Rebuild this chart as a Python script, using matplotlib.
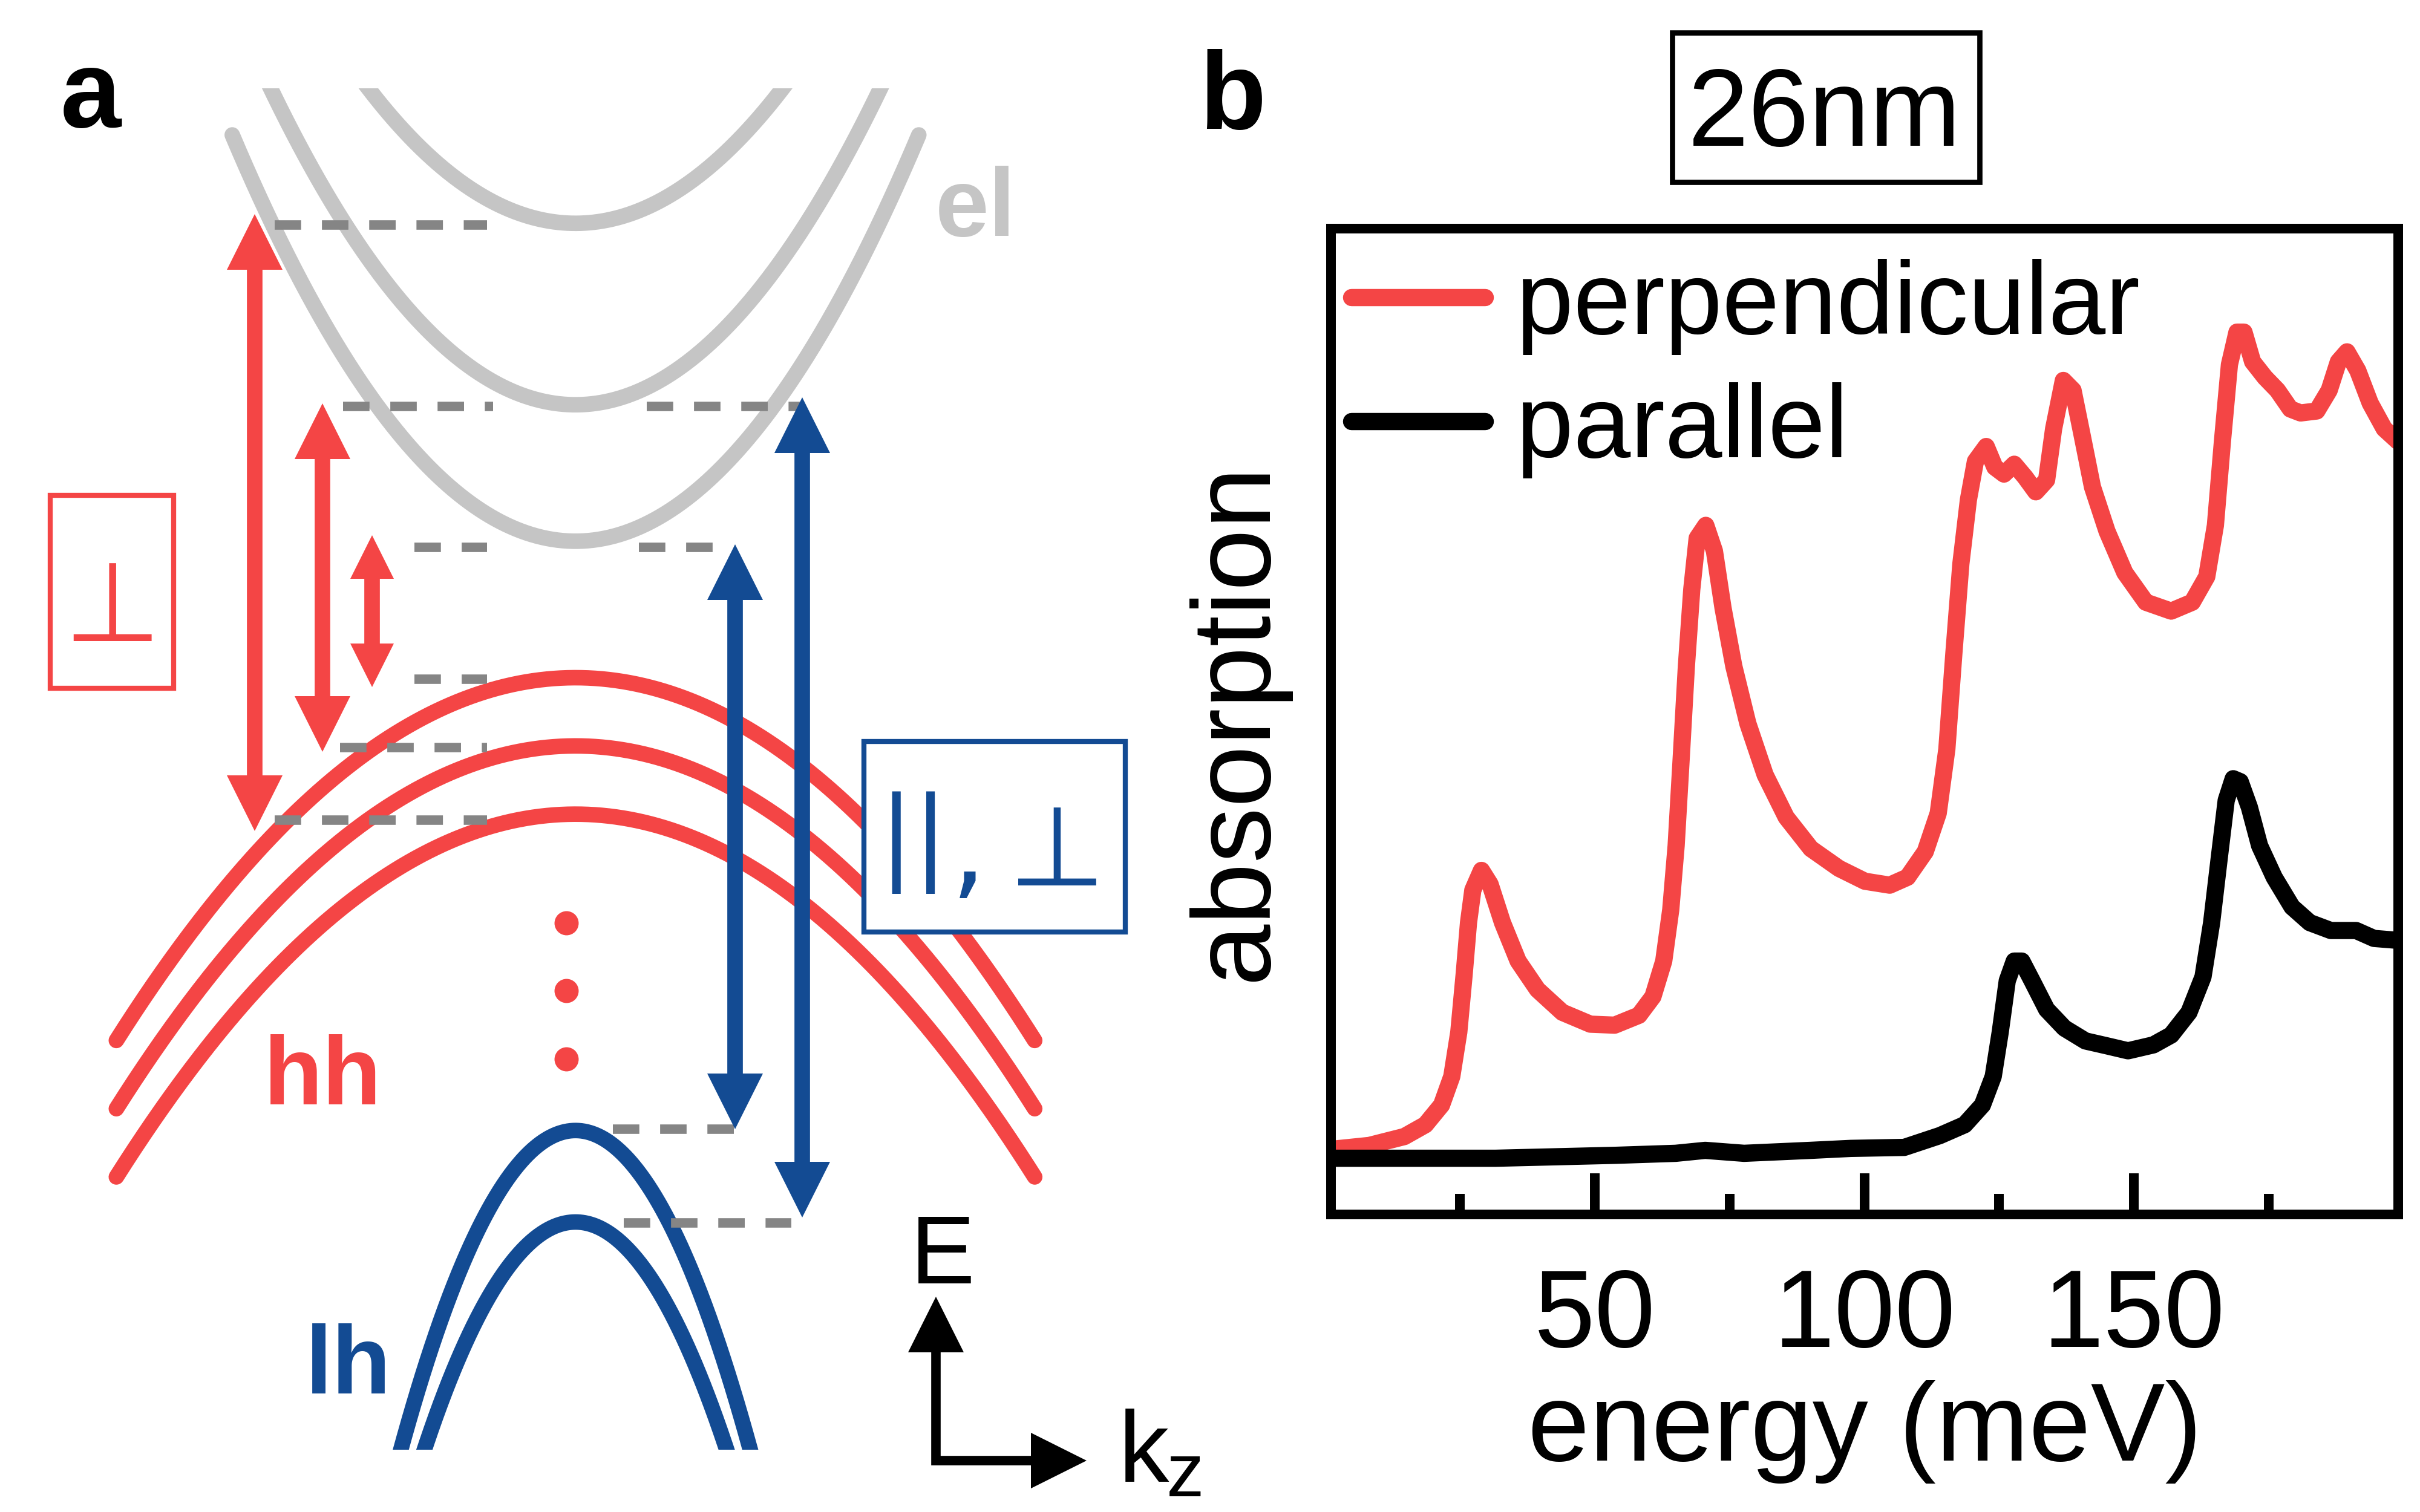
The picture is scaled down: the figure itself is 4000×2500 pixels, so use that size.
import matplotlib.pyplot as plt
import numpy as np
from matplotlib.patches import Rectangle

plt.rcParams["font.family"] = ["Liberation Sans", "DejaVu Sans"]

RED = "#f44545"
BLUE = "#134b93"
LIGHT_GREY = "#c5c5c5"
DASH_GREY = "#858585"

# ---------------------------------------------------------------------------
# panel b: absorption spectra of the 26 nm well (arb. units, 0..1 of axis)
# ---------------------------------------------------------------------------
PERP_E = [1.1, 8.2, 14.7, 18.6, 21.6, 23.5, 24.8, 25.8, 26.6, 27.4,
          29.0, 30.6, 32.9, 35.8, 39.4, 44.0, 49.2, 53.7, 58.2, 60.8,
          62.8, 64.1, 65.1, 66.0, 67.0, 68.0, 69.0, 70.6, 72.2, 73.8,
          75.8, 78.4, 81.6, 85.5, 90.1, 95.3, 100.1, 104.7, 108.0, 111.3,
          113.7, 115.3, 116.6, 117.9, 119.3, 120.6, 122.6, 124.2, 125.9, 127.8,
          129.8, 131.8, 133.8, 135.1, 136.9, 138.7, 140.4, 142.3, 145.0, 148.3,
          152.2, 156.9, 160.8, 163.5, 165.1, 166.4, 167.7, 169.1, 170.4, 172.0,
          174.3, 176.6, 179.0, 180.9, 183.9, 186.2, 187.9, 189.5, 191.5, 193.8,
          196.4, 199.0]
PERP_A = [0.066, 0.070, 0.079, 0.091, 0.111, 0.140, 0.185, 0.244, 0.296, 0.329,
          0.349, 0.335, 0.296, 0.257, 0.228, 0.205, 0.193, 0.192, 0.202, 0.221,
          0.257, 0.309, 0.374, 0.459, 0.556, 0.634, 0.686, 0.699, 0.673, 0.615,
          0.556, 0.498, 0.446, 0.403, 0.371, 0.351, 0.338, 0.334, 0.342, 0.368,
          0.407, 0.472, 0.569, 0.660, 0.725, 0.764, 0.779, 0.758, 0.751, 0.761,
          0.748, 0.733, 0.745, 0.797, 0.846, 0.836, 0.790, 0.738, 0.693, 0.651,
          0.621, 0.612, 0.621, 0.647, 0.699, 0.784, 0.862, 0.895, 0.895, 0.865,
          0.849, 0.836, 0.817, 0.813, 0.815, 0.836, 0.865, 0.875, 0.856, 0.823,
          0.797, 0.784]

PAR_E = [1.1, 31.6, 54.0, 65.0, 70.5, 77.7, 90.0, 97.5, 107.4, 114.0,
         118.6, 121.9, 123.9, 125.2, 126.5, 127.8, 129.2, 131.1, 133.8, 137.1,
         141.0, 145.0, 148.9, 153.6, 156.9, 160.2, 162.8, 164.4, 165.8, 167.1,
         168.4, 169.7, 171.4, 173.3, 176.0, 179.3, 182.6, 186.5, 191.2, 194.5,
         199.0]
PAR_A = [0.057, 0.057, 0.060, 0.062, 0.065, 0.062, 0.065, 0.067, 0.068, 0.080,
         0.091, 0.111, 0.140, 0.185, 0.237, 0.257, 0.257, 0.237, 0.208, 0.189,
         0.176, 0.171, 0.166, 0.172, 0.182, 0.205, 0.241, 0.296, 0.361, 0.420,
         0.442, 0.439, 0.413, 0.374, 0.342, 0.312, 0.296, 0.288, 0.288, 0.280,
         0.278]

MAJOR_TICKS = [50, 100, 150]
MINOR_TICKS = [25, 75, 125, 175]

# ---------------------------------------------------------------------------
# panel a: schematic subband diagram (schematic units, E upwards)
# ---------------------------------------------------------------------------
K0 = 371                      # k = 0 position
EL_MIN = [831, 714, 626]      # electron subband minima
EL_CURV = [0.00488, 0.00528, 0.00535]
EL_END = [930, 930, 888]      # energy where each drawn branch stops
EL_CLIP = 918

HH_MAX = [538, 494, 450]      # heavy-hole subband maxima
HH_CURV = [0.00267, 0.00267, 0.00267]
HH_KMAX = [296, 296, 296]

LH_MAX = [246, 187]           # light-hole subband maxima
LH_CURV = [0.01622, 0.01546]
LH_CLIP = 40

DOT_K = 365
DOT_E = [380, 336, 292]

DASH_E = [830, 713, 713, 622, 622, 537, 493, 446, 247, 186.5]
DASH_X0 = [177, 221, 417, 267, 412, 267, 219, 177, 395, 402]
DASH_X1 = [314, 318, 517, 314, 460, 314, 314, 314, 473, 510]

ARROW_X = [164, 208, 240, 474, 517]
ARROW_TOP = [837, 715, 630, 624, 719]
ARROW_BOTTOM = [439, 490, 532, 247, 190]
ARROW_HEAD = [36, 36, 28, 36, 36]
ARROW_COLOR = [RED, RED, RED, BLUE, BLUE]

UNIT_PT = 0.7385              # one schematic unit in points


def draw_arrow(ax, x, top, bottom, head, color):
    size = head * UNIT_PT
    ax.plot([x, x], [bottom + head - 2, top - head + 2], color=color,
            lw=7.4, solid_capstyle="butt", zorder=3)
    ax.plot([x], [top - head / 2], marker="^", ms=size, mew=0, color=color,
            zorder=3)
    ax.plot([x], [bottom + head / 2], marker="v", ms=size, mew=0, color=color,
            zorder=3)


fig = plt.figure(figsize=(16, 10), dpi=250)

# ----------------------------- panel a -------------------------------------
ax_a = fig.add_axes([0, 0, 0.54, 1])
ax_a.set_xlim(0, 842.4)
ax_a.set_ylim(0, 975)
ax_a.axis("off")
ax_a.patch.set_visible(False)

top_clip = Rectangle((0, 0), 900, EL_CLIP, transform=ax_a.transData)
for e0, c, e1 in zip(EL_MIN, EL_CURV, EL_END):
    kmax = np.sqrt((e1 - e0) / c)
    k = np.linspace(-kmax, kmax, 400)
    line, = ax_a.plot(K0 + k, e0 + c * k**2, color=LIGHT_GREY, lw=7.4,
                      solid_capstyle="round", zorder=1)
    line.set_clip_path(top_clip)

for e0, c, kmax in zip(HH_MAX, HH_CURV, HH_KMAX):
    k = np.linspace(-kmax, kmax, 400)
    ax_a.plot(K0 + k, e0 - c * k**2, color=RED, lw=7.4,
              solid_capstyle="round", zorder=1)

bottom_clip = Rectangle((0, LH_CLIP), 900, 1000, transform=ax_a.transData)
for e0, c in zip(LH_MAX, LH_CURV):
    kmax = np.sqrt((e0 - LH_CLIP + 15) / c)
    k = np.linspace(-kmax, kmax, 400)
    line, = ax_a.plot(K0 + k, e0 - c * k**2, color=BLUE, lw=7.4, zorder=1)
    line.set_clip_path(bottom_clip)

for e, x0, x1 in zip(DASH_E, DASH_X0, DASH_X1):
    ax_a.plot([x0, x1], [e, e], color=DASH_GREY, lw=4.5,
              linestyle=(0, (2.8, 2.2)), dash_capstyle="butt", zorder=2)

ax_a.plot([DOT_K] * len(DOT_E), DOT_E, "o", color=RED, ms=11.5, mew=0,
          zorder=2)

for x, t, b, h, col in zip(ARROW_X, ARROW_TOP, ARROW_BOTTOM, ARROW_HEAD,
                           ARROW_COLOR):
    draw_arrow(ax_a, x, t, b, h, col)

# polarisation boxes
ax_a.add_patch(Rectangle((32.2, 531.2), 79.8, 124.2, fill=False,
                         ec=RED, lw=2.4, zorder=4))
ax_a.text(72.3, 561.5, "\u22a5", color=RED, fontsize=53,
          family="DejaVu Sans", ha="center", va="baseline", zorder=5)

ax_a.add_patch(Rectangle((556.8, 374.2), 168.5, 122.8, fc="white",
                         ec=BLUE, lw=2.4, zorder=4))
ax_a.text(588.8, 431.5, "||", color=BLUE, fontsize=49,
          family="DejaVu Sans", ha="center", va="center", zorder=5)
ax_a.text(613, 404, ",\u2009\u22a5", color=BLUE, fontsize=53,
          family="DejaVu Sans", ha="left", va="baseline", zorder=5)

# band labels
ax_a.text(39, 893, "a", fontsize=52, fontweight="bold", va="baseline")
ax_a.text(603, 823, "el", fontsize=46, fontweight="bold", color=LIGHT_GREY,
          va="baseline")
ax_a.text(170, 263, "hh", fontsize=46, fontweight="bold", color=RED,
          va="baseline")
ax_a.text(197, 76.5, "lh", fontsize=46, fontweight="bold", color=BLUE,
          va="baseline")

# E / k_z orientation arrows
origin_x, origin_e = 603.5, 33
e_tip, k_tip, head = 139, 700.6, 36
ax_a.plot([origin_x, origin_x, k_tip - head + 2],
          [e_tip - head + 2, origin_e, origin_e],
          color="black", lw=4.5, solid_joinstyle="miter",
          solid_capstyle="butt", zorder=3)
ax_a.plot([origin_x], [e_tip - head / 2], marker="^", ms=head * UNIT_PT,
          mew=0, color="black", zorder=3)
ax_a.plot([k_tip - head / 2], [origin_e], marker=">", ms=head * UNIT_PT,
          mew=0, color="black", zorder=3)
ax_a.text(587, 147.5, "E", fontsize=46, va="baseline")
ax_a.text(721, 19.5, "k", fontsize=48, va="baseline")
ax_a.text(752, 10, "z", fontsize=36, va="baseline")

# ----------------------------- panel b -------------------------------------
ax_b = fig.add_axes([0.55, 0.1968, 0.441, 0.652])
ax_b.plot(PERP_E, PERP_A, color=RED, lw=8.2, label="perpendicular",
          solid_capstyle="round", solid_joinstyle="round")
ax_b.plot(PAR_E, PAR_A, color="black", lw=8.2, label="parallel",
          solid_capstyle="round", solid_joinstyle="round")
ax_b.set_xlim(1.1, 199)
ax_b.set_ylim(0, 1)
ax_b.set_xticks(MAJOR_TICKS)
ax_b.set_xticks(MINOR_TICKS, minor=True)
ax_b.set_yticks([])
ax_b.tick_params(axis="x", which="major", direction="in", length=19.5,
                 width=4.6, labelsize=52, pad=25, top=False)
ax_b.tick_params(axis="x", which="minor", direction="in", length=9.8,
                 width=4.6, top=False)
for sp in ax_b.spines.values():
    sp.set_linewidth(4.6)
ax_b.set_xlabel("energy (meV)", fontsize=53, labelpad=5)
ax_b.set_ylabel("absorption", fontsize=53, labelpad=20)
ax_b.legend(loc="upper left", bbox_to_anchor=(0.019, 0.9696), frameon=False,
            fontsize=49, handlelength=1.3, handletextpad=0.3,
            labelspacing=0.27, borderpad=0, borderaxespad=0)

fig.text(0.4955, 0.9149, "b", fontsize=52, fontweight="bold", va="baseline")
fig.add_artist(Rectangle((0.691, 0.8795), 0.127, 0.099, fill=False,
                         ec="black", lw=2.5, transform=fig.transFigure))
fig.text(0.7538, 0.9036, "26nm", fontsize=52, ha="center", va="baseline")

fig.savefig("out.png", dpi=250)
